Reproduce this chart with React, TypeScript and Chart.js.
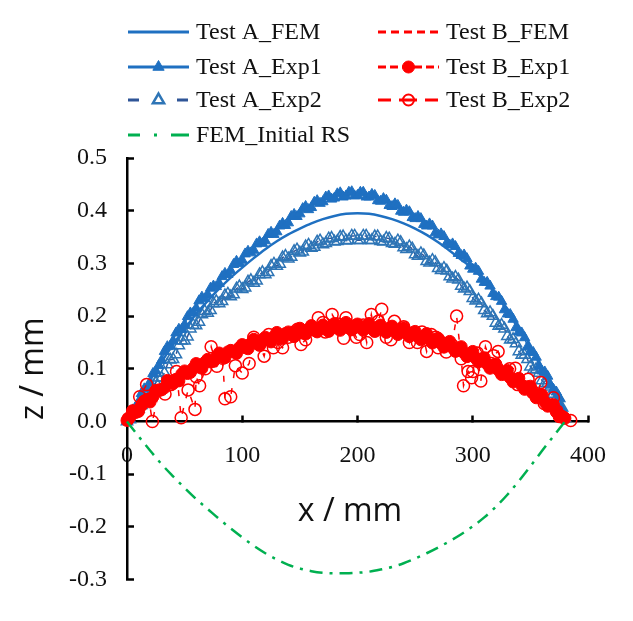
import React, { useEffect, useRef } from 'react';
import { Chart, registerables } from 'chart.js';
import { drawPoint } from 'chart.js/helpers';

Chart.register(...registerables);

// ---------- data ----------
const femX = [0, 10, 20, 30, 40, 50, 60, 70, 80, 90, 100, 110, 120, 130, 140, 150, 160, 170, 180, 190,
  200, 210, 220, 230, 240, 250, 260, 270, 280, 290, 300, 310, 320, 330, 340, 350, 360, 370, 380];

const aFemZ = [0, 0.04, 0.078, 0.113, 0.146, 0.176, 0.204, 0.229, 0.252, 0.273, 0.292, 0.31, 0.327, 0.342,
  0.355, 0.366, 0.376, 0.384, 0.39, 0.394, 0.395, 0.394, 0.39, 0.384, 0.376, 0.366, 0.354, 0.34, 0.324,
  0.307, 0.29, 0.268, 0.243, 0.214, 0.181, 0.145, 0.104, 0.058, 0.005];

const bFemZ = [0, 0.025, 0.045, 0.062, 0.077, 0.09, 0.102, 0.113, 0.123, 0.132, 0.14, 0.148, 0.155, 0.161,
  0.166, 0.17, 0.174, 0.177, 0.179, 0.18, 0.18, 0.179, 0.177, 0.174, 0.17, 0.165, 0.159, 0.152, 0.144,
  0.135, 0.125, 0.114, 0.102, 0.089, 0.075, 0.06, 0.044, 0.026, 0.003];

const rsFemZ = [0, -0.028, -0.055, -0.081, -0.104, -0.126, -0.147, -0.166, -0.185, -0.203, -0.22, -0.236,
  -0.25, -0.262, -0.272, -0.279, -0.284, -0.287, -0.288, -0.288, -0.287, -0.285, -0.281, -0.276, -0.269,
  -0.26, -0.25, -0.239, -0.227, -0.214, -0.199, -0.182, -0.162, -0.139, -0.113, -0.085, -0.056, -0.028, 0];

const expX = [0, 5, 10, 15, 20, 25, 30, 35, 40, 45, 50, 55, 60, 65, 70, 75, 80, 85, 90, 95, 100, 105, 110,
  115, 120, 125, 130, 135, 140, 145, 150, 155, 160, 165, 170, 175, 180, 185, 190, 195, 200, 205, 210, 215,
  220, 225, 230, 235, 240, 245, 250, 255, 260, 265, 270, 275, 280, 285, 290, 295, 300, 305, 310, 315, 320,
  325, 330, 335, 340, 345, 350, 355, 360, 365, 370, 375, 380];

const expMidX = [2.5, 7.5, 12.5, 17.5, 22.5, 27.5, 32.5, 37.5, 42.5, 47.5, 52.5, 57.5, 62.5, 67.5, 72.5,
  77.5, 82.5, 87.5, 92.5, 97.5, 102.5, 107.5, 112.5, 117.5, 122.5, 127.5, 132.5, 137.5, 142.5, 147.5, 152.5,
  157.5, 162.5, 167.5, 172.5, 177.5, 182.5, 187.5, 192.5, 197.5, 202.5, 207.5, 212.5, 217.5, 222.5, 227.5,
  232.5, 237.5, 242.5, 247.5, 252.5, 257.5, 262.5, 267.5, 272.5, 277.5, 282.5, 287.5, 292.5, 297.5, 302.5,
  307.5, 312.5, 317.5, 322.5, 327.5, 332.5, 337.5, 342.5, 347.5, 352.5, 357.5, 362.5, 367.5, 372.5, 377.5];

const aExp1Z = [0, 0.022, 0.037, 0.062, 0.075, 0.096, 0.116, 0.142, 0.153, 0.175, 0.184, 0.206, 0.215,
  0.236, 0.241, 0.257, 0.262, 0.281, 0.286, 0.304, 0.306, 0.323, 0.325, 0.341, 0.343, 0.359, 0.36, 0.376,
  0.377, 0.393, 0.394, 0.408, 0.406, 0.419, 0.417, 0.428, 0.424, 0.434, 0.428, 0.436, 0.429, 0.435, 0.426,
  0.429, 0.418, 0.42, 0.408, 0.41, 0.397, 0.398, 0.385, 0.385, 0.371, 0.371, 0.354, 0.351, 0.335, 0.332,
  0.315, 0.309, 0.289, 0.285, 0.264, 0.257, 0.237, 0.228, 0.204, 0.194, 0.17, 0.159, 0.133, 0.122, 0.096,
  0.086, 0.061, 0.045, 0.008];

const aExp1ZMid = [0.012, 0.027, 0.053, 0.064, 0.091, 0.106, 0.133, 0.143, 0.168, 0.175, 0.199, 0.206,
  0.229, 0.233, 0.253, 0.256, 0.275, 0.279, 0.298, 0.3, 0.318, 0.32, 0.337, 0.338, 0.355, 0.355, 0.371,
  0.372, 0.389, 0.389, 0.404, 0.402, 0.416, 0.414, 0.426, 0.422, 0.432, 0.426, 0.435, 0.428, 0.435, 0.426,
  0.431, 0.419, 0.423, 0.41, 0.413, 0.399, 0.401, 0.387, 0.389, 0.374, 0.375, 0.358, 0.356, 0.339, 0.337,
  0.319, 0.316, 0.295, 0.291, 0.27, 0.264, 0.243, 0.236, 0.212, 0.203, 0.178, 0.168, 0.142, 0.131, 0.105,
  0.094, 0.069, 0.056, 0.024];

const aExp2Z = [0, 0.016, 0.024, 0.045, 0.052, 0.074, 0.083, 0.108, 0.118, 0.144, 0.153, 0.176, 0.182,
  0.203, 0.206, 0.224, 0.224, 0.239, 0.237, 0.252, 0.251, 0.265, 0.263, 0.279, 0.279, 0.295, 0.295, 0.311,
  0.309, 0.323, 0.32, 0.332, 0.329, 0.341, 0.336, 0.347, 0.341, 0.35, 0.343, 0.352, 0.344, 0.352, 0.344,
  0.351, 0.342, 0.348, 0.338, 0.343, 0.33, 0.332, 0.317, 0.319, 0.304, 0.306, 0.291, 0.291, 0.275, 0.274,
  0.257, 0.254, 0.234, 0.231, 0.211, 0.207, 0.187, 0.183, 0.162, 0.156, 0.133, 0.126, 0.104, 0.099, 0.078,
  0.073, 0.052, 0.044, 0.006];

const aExp2ZMid = [0.004, 0.024, 0.031, 0.053, 0.059, 0.083, 0.092, 0.117, 0.127, 0.153, 0.161, 0.183,
  0.189, 0.209, 0.211, 0.228, 0.228, 0.242, 0.241, 0.256, 0.254, 0.268, 0.267, 0.283, 0.283, 0.299, 0.299,
  0.314, 0.312, 0.326, 0.322, 0.335, 0.331, 0.343, 0.338, 0.348, 0.342, 0.351, 0.344, 0.352, 0.344, 0.352,
  0.344, 0.351, 0.341, 0.347, 0.337, 0.34, 0.327, 0.328, 0.314, 0.315, 0.301, 0.302, 0.287, 0.286, 0.271,
  0.269, 0.252, 0.247, 0.229, 0.224, 0.205, 0.2, 0.181, 0.176, 0.155, 0.148, 0.126, 0.118, 0.098, 0.092,
  0.072, 0.066, 0.044, 0.026];

const bExp1Z = [0.002, 0.02, 0.019, 0.039, 0.037, 0.059, 0.06, 0.078, 0.072, 0.077, 0.096, 0.093, 0.11,
  0.101, 0.118, 0.114, 0.13, 0.121, 0.135, 0.129, 0.146, 0.138, 0.156, 0.145, 0.16, 0.151, 0.169, 0.157,
  0.17, 0.161, 0.177, 0.166, 0.182, 0.17, 0.183, 0.171, 0.186, 0.173, 0.188, 0.174, 0.185, 0.173, 0.186,
  0.171, 0.183, 0.169, 0.181, 0.165, 0.178, 0.161, 0.171, 0.155, 0.167, 0.149, 0.158, 0.141, 0.152, 0.133,
  0.142, 0.123, 0.133, 0.113, 0.121, 0.101, 0.109, 0.089, 0.097, 0.075, 0.082, 0.061, 0.067, 0.045, 0.051,
  0.029, 0.032, 0.009, 0.006];

const bExp1ZMid = [0.008, 0.017, 0.03, 0.042, 0.047, 0.059, 0.064, 0.075, 0.08, 0.09, 0.091, 0.101, 0.103,
  0.112, 0.113, 0.122, 0.123, 0.132, 0.132, 0.14, 0.14, 0.148, 0.148, 0.155, 0.154, 0.161, 0.16, 0.167,
  0.165, 0.171, 0.169, 0.175, 0.173, 0.178, 0.175, 0.18, 0.177, 0.182, 0.178, 0.182, 0.178, 0.181, 0.176,
  0.179, 0.174, 0.177, 0.171, 0.173, 0.167, 0.168, 0.161, 0.162, 0.155, 0.156, 0.148, 0.148, 0.14, 0.139,
  0.13, 0.129, 0.12, 0.119, 0.109, 0.107, 0.097, 0.094, 0.083, 0.08, 0.069, 0.066, 0.054, 0.05, 0.037,
  0.032, 0.018, 0.01];

const bExp2X = [1, 5, 11, 17, 22, 28, 33, 38, 43, 47, 53, 59, 60, 63, 68, 73, 78, 83, 85, 90, 94, 100, 106,
  110, 115, 119, 123, 127, 131, 135, 140, 145, 148, 151, 155, 160, 166, 170, 172, 178, 183, 188, 190, 195,
  199, 202, 205, 208, 212, 215, 218, 221, 225, 229, 232, 235, 240, 245, 248, 252, 256, 260, 264, 268, 270,
  273, 277, 282, 286, 290, 292, 296, 299, 300, 304, 307, 311, 316, 318, 322, 328, 332, 337, 339, 345, 348,
  352, 356, 359, 362, 368, 370, 373, 379, 385];

const bExp2Z = [0.005, 0.02, 0.047, 0.07, 0.0, 0.06, 0.052, 0.07, 0.095, 0.007, 0.06, 0.023, 0.085, 0.068,
  0.1, 0.142, 0.105, 0.12, 0.043, 0.047, 0.106, 0.092, 0.11, 0.16, 0.145, 0.124, 0.165, 0.14, 0.15, 0.14,
  0.16, 0.17, 0.175, 0.146, 0.155, 0.175, 0.197, 0.188, 0.17, 0.203, 0.185, 0.158, 0.197, 0.175, 0.16, 0.165,
  0.183, 0.15, 0.203, 0.172, 0.19, 0.213, 0.16, 0.155, 0.19, 0.17, 0.18, 0.15, 0.168, 0.15, 0.17, 0.133,
  0.165, 0.16, 0.14, 0.15, 0.132, 0.145, 0.2, 0.119, 0.068, 0.095, 0.083, 0.095, 0.13, 0.077, 0.142, 0.11,
  0.125, 0.133, 0.09, 0.1, 0.101, 0.07, 0.065, 0.08, 0.055, 0.05, 0.074, 0.034, 0.03, 0.045, 0.02, 0.007,
  0.002];

const seriesLabels = ['Test A_FEM', 'Test B_FEM', 'Test A_Exp1', 'Test B_Exp1', 'Test A_Exp2', 'Test B_Exp2', 'FEM_Initial RS'];
const xTickValues = [0, 100, 200, 300, 400];
const yTickValues = [-0.3, -0.2, -0.1, 0, 0.1, 0.2, 0.3, 0.4, 0.5];
const xTitle = 'x / mm';
const yTitle = 'z / mm';

// ---------- styles ----------
const BLUE = '#1F70C1';
const BLUE2 = '#2E75B6';
const NAVY = '#2F5597';
const RED = '#FF0000';
const GREEN = '#00B050';
const SERIF = '"Liberation Serif", "Times New Roman", serif';
const SANS = '"Open Sans", sans-serif';

const LEGEND_X = [128, 378];
const LEGEND_Y = [32, 67, 100, 135];
const SAMPLE_W = 61;

const pts = (xs: number[], zs: number[]) => xs.map((x, i) => ({ x, y: zs[i] }));
const merged = (xa: number[], za: number[], xb: number[], zb: number[]) =>
  [...pts(xa, za), ...pts(xb, zb)].sort((p, q) => p.x - q.x);

const overlayPlugin = {
  id: 'overlayLegend',
  afterDraw(chart: any) {
    const ctx = chart.ctx as CanvasRenderingContext2D;
    chart.data.datasets.forEach((ds: any, i: number) => {
      const x0 = LEGEND_X[i % 2];
      const y = LEGEND_Y[Math.floor(i / 2)];
      ctx.save();
      ctx.strokeStyle = ds.borderColor;
      ctx.lineWidth = 3;
      ctx.setLineDash(ds.legendDash || []);
      ctx.beginPath();
      ctx.moveTo(x0, y);
      ctx.lineTo(x0 + SAMPLE_W, y);
      ctx.stroke();
      ctx.setLineDash([]);
      if (ds.pointRadius > 0) {
        ctx.fillStyle = ds.pointBackgroundColor;
        ctx.strokeStyle = ds.pointBorderColor;
        ctx.lineWidth = ds.legendBorder;
        drawPoint(ctx, { pointStyle: ds.pointStyle, radius: ds.legendRadius, borderWidth: ds.legendBorder, rotation: 0 } as any, x0 + SAMPLE_W / 2, y);
      }
      ctx.fillStyle = '#111';
      ctx.font = '24px ' + SERIF;
      ctx.textBaseline = 'middle';
      ctx.textAlign = 'left';
      ctx.fillText(ds.label, x0 + SAMPLE_W + 7, y + 1);
      ctx.restore();
    });
    ctx.save();
    ctx.fillStyle = '#111';
    ctx.font = '32px ' + SANS;
    ctx.textAlign = 'center';
    ctx.textBaseline = 'middle';
    ctx.fillText(xTitle, 350, 512);
    ctx.restore();
  },
};

export default function App() {
  const ref = useRef<HTMLCanvasElement | null>(null);

  useEffect(() => {
    if (!ref.current) return;
    const axisCommon = {
      grid: { drawOnChartArea: false, drawTicks: true, tickLength: -7, tickWidth: 2.5, tickColor: '#000' },
      border: { display: true, color: '#000', width: 2.5 },
    };
    const chart = new Chart(ref.current, {
      type: 'line',
      data: {
        datasets: [
          {
            label: seriesLabels[0], data: pts(femX, aFemZ), borderColor: BLUE, borderWidth: 2.5,
            pointRadius: 0, cubicInterpolationMode: 'monotone', order: 4, legendDash: [],
          },
          {
            label: seriesLabels[1], data: pts(femX, bFemZ), borderColor: RED, borderWidth: 2.5, borderDash: [7, 4],
            pointRadius: 0, cubicInterpolationMode: 'monotone', order: 3, legendDash: [8, 5],
          },
          {
            label: seriesLabels[2], data: merged(expX, aExp1Z, expMidX, aExp1ZMid), borderColor: BLUE, borderWidth: 1.5,
            pointStyle: 'triangle', pointRadius: 6, pointBackgroundColor: BLUE, pointBorderColor: BLUE,
            pointBorderWidth: 1, order: 5, legendDash: [], legendRadius: 6.5, legendBorder: 1,
          },
          {
            label: seriesLabels[3], data: merged(expX, bExp1Z, expMidX, bExp1ZMid), borderColor: RED, borderWidth: 1.5,
            borderDash: [6, 4], pointStyle: 'circle', pointRadius: 6, pointBackgroundColor: RED, pointBorderColor: RED,
            pointBorderWidth: 1, order: 1, legendDash: [8, 4], legendRadius: 6, legendBorder: 1,
          },
          {
            label: seriesLabels[4], data: merged(expX, aExp2Z, expMidX, aExp2ZMid), borderColor: NAVY, borderWidth: 1.5,
            borderDash: [6, 4], pointStyle: 'triangle', pointRadius: 6.5, pointBackgroundColor: 'rgba(0,0,0,0)',
            pointBorderColor: BLUE2, pointBorderWidth: 1.5, order: 6, legendDash: [11, 38], legendRadius: 6.5, legendBorder: 2.5,
          },
          {
            label: seriesLabels[5], data: pts(bExp2X, bExp2Z), borderColor: RED, borderWidth: 1.5, borderDash: [6, 10],
            pointStyle: 'circle', pointRadius: 6, pointBackgroundColor: 'rgba(0,0,0,0)', pointBorderColor: RED,
            pointBorderWidth: 1.5, order: 2, legendDash: [13, 8, 18, 8, 13], legendRadius: 5.5, legendBorder: 2,
          },
          {
            label: seriesLabels[6], data: pts(femX, rsFemZ), borderColor: GREEN, borderWidth: 2.5,
            borderDash: [13, 7, 3, 7], pointRadius: 0, cubicInterpolationMode: 'monotone', order: 0,
            legendDash: [12, 14, 3, 14, 18],
          },
        ] as any,
      },
      options: {
        animation: false,
        responsive: true,
        maintainAspectRatio: false,
        clip: false as any,
        layout: { padding: { left: 0, top: 158, right: 33, bottom: 19 } },
        plugins: { legend: { display: false }, tooltip: { enabled: false } },
        scales: {
          x: {
            type: 'linear',
            min: 0,
            max: 400,
            position: { y: 0 } as any,
            afterBuildTicks: (s: any) => { s.ticks = xTickValues.map((v) => ({ value: v })); },
            ticks: { padding: 27, color: '#111', font: { family: SERIF, size: 24 }, maxRotation: 0, autoSkip: false },
            ...axisCommon,
          },
          y: {
            type: 'linear',
            min: -0.3,
            max: 0.5,
            position: 'left',
            afterBuildTicks: (s: any) => { s.ticks = yTickValues.map((v) => ({ value: v })); },
            afterFit: (s: any) => { s.width = 127; },
            ticks: {
              padding: 27, color: '#111', font: { family: SERIF, size: 24 }, autoSkip: false,
              callback: (v: any) => (Math.abs(Number(v)) < 1e-9 ? '0.0' : Number(v).toFixed(1)),
            },
            title: { display: true, text: yTitle, color: '#111', font: { family: SANS, size: 32 }, padding: { top: 15, bottom: 0 } },
            ...axisCommon,
          },
        },
      } as any,
      plugins: [overlayPlugin],
    });
    return () => chart.destroy();
  }, []);

  return (
    <div style={{ position: 'absolute', left: 0, top: 0, width: 633, height: 621, background: '#fff' }}>
      <canvas ref={ref} style={{ display: 'block' }} />
    </div>
  );
}
